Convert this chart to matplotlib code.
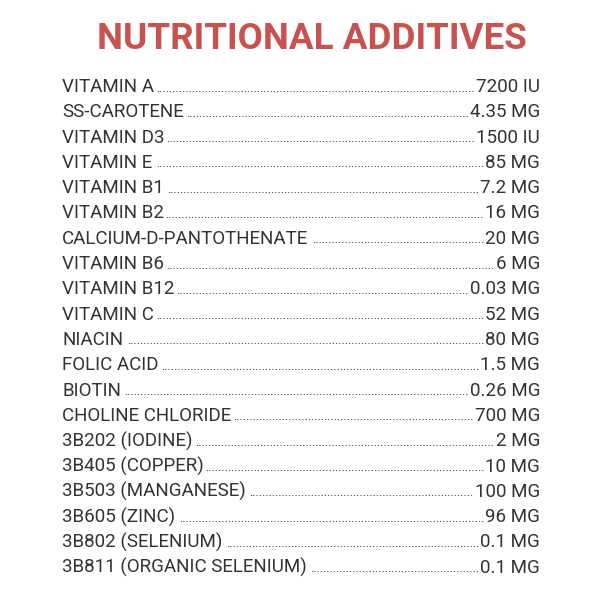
import matplotlib.pyplot as plt

title = "NUTRITIONAL ADDITIVES"
names = ["VITAMIN A", "SS-CAROTENE", "VITAMIN D3", "VITAMIN E", "VITAMIN B1", "VITAMIN B2",
         "CALCIUM-D-PANTOTHENATE", "VITAMIN B6", "VITAMIN B12", "VITAMIN C", "NIACIN",
         "FOLIC ACID", "BIOTIN", "CHOLINE CHLORIDE", "3B202 (IODINE)", "3B405 (COPPER)",
         "3B503 (MANGANESE)", "3B605 (ZINC)", "3B802 (SELENIUM)", "3B811 (ORGANIC SELENIUM)"]
amounts = ["7200 IU", "4.35 MG", "1500 IU", "85 MG", "7.2 MG", "16 MG", "20 MG", "6 MG",
           "0.03 MG", "52 MG", "80 MG", "1.5 MG", "0.26 MG", "700 MG", "2 MG", "10 MG",
           "100 MG", "96 MG", "0.1 MG", "0.1 MG"]

fig = plt.figure(figsize=(6, 6), dpi=100)
fig.patch.set_facecolor("white")
ax = fig.add_axes([0, 0, 1, 1])
ax.set_xlim(0, 600)
ax.set_ylim(600, 0)
ax.axis("off")

ax.text(312, 39, title, ha="center", va="center", fontsize=26.5, fontweight="bold",
        color="#c8524f", family="Roboto")

fs = 13.5
fig.canvas.draw()
r = fig.canvas.get_renderer()
dot = ax.text(0, 0, "..........", fontsize=9, family="Roboto")
dw = dot.get_window_extent(r).width / 10
dot.remove()

x0, x1 = 62, 540
y0, step = 87, 25.3
for i, (n, a) in enumerate(zip(names, amounts)):
    y = y0 + i * step
    t1 = ax.text(x0, y, n, ha="left", va="center", fontsize=fs, color="#333333", family="Roboto")
    t2 = ax.text(x1, y, a, ha="right", va="center", fontsize=fs, color="#333333", family="Roboto")
    e1 = t1.get_window_extent(r)
    e2 = t2.get_window_extent(r)
    gap = e2.x0 - e1.x1 - 2
    nd = max(int(gap / dw), 0)
    ax.text(e2.x0 - 1, y + 1, "." * nd, ha="right", va="center", fontsize=9,
            color="#333333", family="Roboto")

fig.savefig("out.png", dpi=100)
